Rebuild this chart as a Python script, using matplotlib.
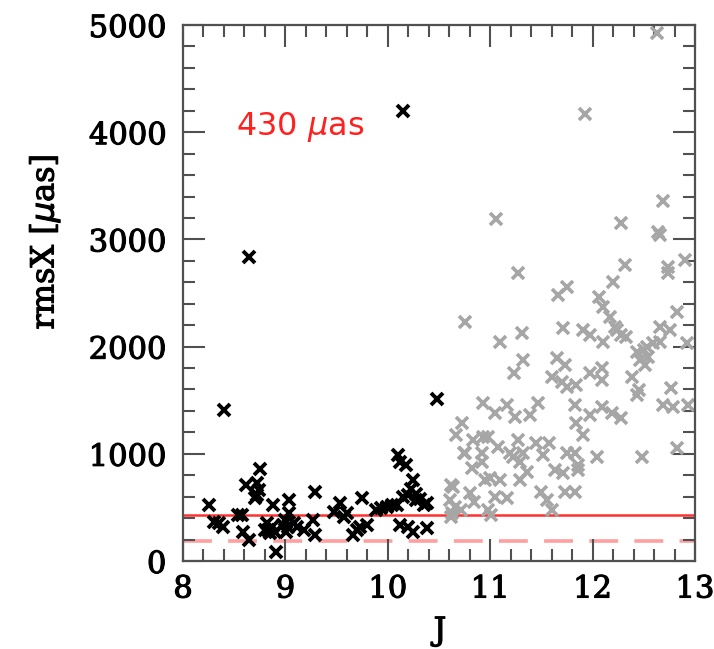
import matplotlib
matplotlib.use("Agg")
import matplotlib.pyplot as plt
import matplotlib.patheffects as pe
from matplotlib.ticker import MultipleLocator

# Bright stars (J < 10.5)
bright_J = [8.25, 8.30, 8.35, 8.39, 8.40, 8.54, 8.58, 8.59, 8.64, 8.62, 8.72, 8.74,
            8.70, 8.72, 8.75, 8.64, 8.82, 8.83, 8.85, 8.88, 8.87, 8.90, 8.80, 8.91,
            9.00, 9.04, 9.03, 9.08, 9.01, 9.04, 8.98, 9.11, 9.18, 9.29, 9.27, 9.29,
            9.47, 9.53, 9.57, 9.60, 9.66, 9.70, 9.75, 9.80, 9.73, 9.88, 9.93, 9.99,
            10.04, 10.09, 10.15, 10.20, 10.10, 10.12, 10.18, 10.25, 10.23, 10.28,
            10.31, 10.35, 10.38, 10.28, 10.12, 10.20, 10.25, 10.38, 10.15, 10.48]
bright_rms = [522, 367, 350, 320, 1411, 430, 430, 273, 196, 709, 725, 662,
              585, 616, 855, 2840, 351, 289, 258, 522, 320, 273, 289, 87,
              382, 569, 320, 351, 273, 445, 336, 320, 290, 646, 382, 242,
              460, 538, 413, 444, 242, 289, 585, 336, 320, 476, 491, 507,
              522, 522, 600, 616, 989, 926, 896, 756, 669, 622,
              575, 522, 538, 569, 336, 320, 273, 305, 4196, 1514]

# Faint stars (J > 10.5)
faint_J = [10.75, 11.10, 11.31, 11.32, 11.23, 11.66, 11.75, 12.20, 12.06, 12.10, 12.17,
           12.22, 12.24, 12.28, 12.33, 11.71, 11.91, 11.97, 12.10, 11.65, 11.73, 11.60,
           11.70, 11.75, 11.84, 11.97, 12.09, 12.09, 12.66, 12.76, 12.82, 12.43, 12.50,
           12.53, 12.59, 12.66, 12.46, 12.51, 12.54, 12.38, 12.45, 12.43, 12.77, 12.69,
           12.79, 12.93, 10.93, 11.05, 11.16, 11.24, 11.39, 11.47, 10.72, 10.67, 11.83,
           11.84, 11.91, 11.97, 12.09, 12.19, 12.28, 10.83, 10.93, 10.98, 10.74, 10.92,
           11.08, 11.19, 11.27, 11.22, 11.32, 11.45, 11.57, 11.52, 10.82, 10.92, 10.95,
           11.00, 11.10, 11.29, 11.36, 11.29, 11.75, 11.83, 11.86, 11.86, 11.63, 11.71,
           12.04, 12.48, 12.82, 10.62, 10.61, 10.66, 10.71, 10.62, 10.80, 10.84, 11.05,
           11.16, 10.98, 11.01, 11.50, 11.55, 11.60, 11.73, 11.83, 11.93, 11.06, 12.69,
           12.28, 12.64, 12.66, 11.27, 12.32, 12.74, 12.74, 12.90, 12.63, 12.92, 10.75,
           10.64, 10.63]
faint_rms = [2232, 2046, 2124, 1875, 1751, 2481, 2559, 2606, 2466, 2372, 2279,
             2186, 2155, 2108, 2092, 2171, 2155, 2108, 2046, 1891, 1828, 1719,
             1673, 1626, 1642, 1751, 1797, 1688, 2186, 2155, 2326, 1953, 1968,
             1999, 2030, 2046, 1875, 1828, 1906, 1719, 1595, 1549, 1611, 1455,
             1439, 1455, 1471, 1378, 1455, 1346, 1362, 1471, 1284, 1175, 1455,
             1284, 1175, 1362, 1439, 1378, 1331, 1129, 1160, 1160, 1005, 1005,
             1066, 1005, 1129, 973, 1005, 1097, 1097, 989, 865, 926, 756,
             771, 756, 756, 833, 926, 1005, 1005, 895, 849, 849, 818,
             973, 973, 1051, 709, 569, 507, 476, 413, 631, 553, 600,
             584, 476, 429, 646, 569, 476, 646, 646, 4167, 3187, 3358,
             3156, 3072, 3041, 2684, 2761, 2745, 2683, 2808, 4923, 2030, 1005,
             693, 450]

median_level = 430
dashed_level = 190
label_text = r"430 $\mu$as"

fig = plt.figure(figsize=(7.14, 6.49), dpi=100)
ax = fig.add_axes([183 / 714, 1 - 561 / 649, (695 - 183) / 714, (561 - 25) / 649])

ax.plot(faint_J, faint_rms, linestyle="none", marker="x", markersize=8.5,
        markeredgewidth=2.6, color="#a6a6a6", zorder=2)
ax.plot(bright_J, bright_rms, linestyle="none", marker="x", markersize=8,
        markeredgewidth=2.8, color="black", zorder=3)

ax.axhline(median_level, color="#ff3030", lw=1.8, zorder=1)
ax.axhline(dashed_level, color="#ffa0a0", lw=2.6, dashes=(8, 4.5), zorder=1)

ax.text(8.52, 4050, label_text, color="#ff2020", fontsize=23,
        ha="left", va="center", family="DejaVu Sans")

ax.set_xlim(8, 13)
ax.set_ylim(0, 5000)
ax.xaxis.set_major_locator(MultipleLocator(1))
ax.xaxis.set_minor_locator(MultipleLocator(0.2))
ax.yaxis.set_major_locator(MultipleLocator(1000))
ax.yaxis.set_minor_locator(MultipleLocator(200))

for s in ax.spines.values():
    s.set_color("#505050")
    s.set_linewidth(1.6)

# slightly heavier strokes for the serif labels
thick = [pe.withStroke(linewidth=0.8, foreground="black")]

ax.tick_params(which="both", direction="in", top=True, right=True,
               color="#505050", width=1.5)
ax.tick_params(which="major", length=16, labelsize=22)
ax.tick_params(axis="y", which="major", pad=12)
ax.tick_params(axis="x", which="major", pad=9)
ax.tick_params(which="minor", length=8.5)
for lab in ax.get_xticklabels() + ax.get_yticklabels():
    lab.set_family("DejaVu Serif")
    lab.set_path_effects(thick)

fig.text(45 / 714, 1 - 242 / 649, r"rmsX [$\mu$as]", rotation=90,
         ha="center", va="center", fontsize=23, family="DejaVu Serif",
         path_effects=thick)
fig.text(440 / 714, 2 / 649, "J", ha="center", va="bottom",
         fontsize=23, family="DejaVu Serif", path_effects=thick)

fig.savefig("out.png", dpi=100)
